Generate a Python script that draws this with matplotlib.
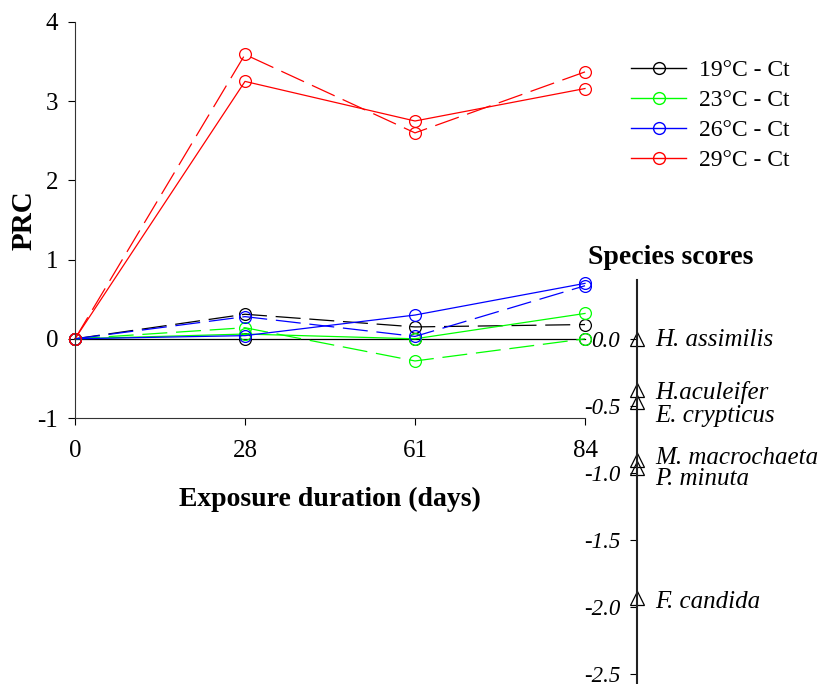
import matplotlib
matplotlib.use('Agg')
import matplotlib.pyplot as plt
from matplotlib.lines import Line2D

# exposure days (plotted as equally spaced categories)
days = ['0', '28', '61', '84']

# PRC values, solid and dashed series per temperature
t19_solid = [0.0, 0.0, 0.0, 0.0]
t19_dash = [0.0, 0.31, 0.15, 0.18]
t23_solid = [0.0, 0.06, 0.0, 0.32]
t23_dash = [0.0, 0.14, -0.28, 0.0]
t26_solid = [0.0, 0.04, 0.30, 0.70]
t26_dash = [0.0, 0.28, 0.03, 0.67]
t29_solid = [0.0, 3.25, 2.75, 3.16]
t29_dash = [0.0, 3.59, 2.60, 3.37]

labels = ['19°C - Ct', '23°C - Ct', '26°C - Ct', '29°C - Ct']
colors = ['black', '#00ff00', '#0000ff', '#ff0000']

# species scores
species = ['H. assimilis', 'H.aculeifer', 'E. crypticus', 'M. macrochaeta', 'P. minuta', 'F. candida']
scores = [0.0, -0.38, -0.47, -0.90, -0.96, -1.93]

plt.rcParams['font.family'] = ['Liberation Serif', 'DejaVu Serif']
plt.rcParams['axes.unicode_minus'] = False

fig = plt.figure(figsize=(8.24, 6.84), dpi=100)
ax = fig.add_axes([75/824, 1-418/684, 510/824, 396/684])

x = range(len(days))
solids = [t19_solid, t23_solid, t26_solid, t29_solid]
dashes = [t19_dash, t23_dash, t26_dash, t29_dash]
for s, d, c in zip(solids, dashes, colors):
    ax.plot(x, d, color=c, lw=0.9, ls=(0, (20, 7)), marker='o', ms=8.5,
            mfc='none', mec=c, mew=0.9, clip_on=False)
    ax.plot(x, s, color=c, lw=0.9, marker='o', ms=8.5,
            mfc='none', mec=c, mew=0.9, clip_on=False)

ax.set_xlim(0, 3)
ax.set_ylim(-1, 4)
ax.set_xticks(list(x))
ax.set_xticklabels(days)
ax.set_yticks([-1, 0, 1, 2, 3, 4])
ax.spines['top'].set_visible(False)
ax.spines['right'].set_visible(False)
for sp in ['left', 'bottom']:
    ax.spines[sp].set_color('#333333')
ax.tick_params(direction='out', length=5, labelsize=18)
ax.tick_params(axis='x', pad=11)
ax.tick_params(axis='y', pad=7)
ax.set_xlabel('Exposure duration (days)', fontsize=20, fontweight='bold', labelpad=18)
ax.set_ylabel('PRC', fontsize=21, fontweight='bold', labelpad=0)

# legend (solid symbols only)
handles = [Line2D([], [], color=c, lw=1, marker='o', ms=8.5, mfc='none', mec=c)
           for c in colors]
fig.legend(handles, labels, loc='upper left', bbox_to_anchor=(622/824, 1-50/684),
           frameon=False, fontsize=17, handlelength=2.3, handletextpad=0.55,
           labelspacing=0.36, borderaxespad=0)

# species score axis
ax2 = fig.add_axes([637/824, 0, 0.2, 1-280/684])
top = (339-280)/134
bottom = -(684-339)/134
ax2.set_ylim(bottom, top)
ax2.set_xlim(0, 1)
for sp in ['top', 'right', 'bottom']:
    ax2.spines[sp].set_visible(False)
ax2.spines['left'].set_linewidth(1.5)
ax2.spines['left'].set_color('#222222')
ax2.patch.set_visible(False)
ax2.set_xticks([])
ticks = [0.0, -0.5, -1.0, -1.5, -2.0, -2.5]
ax2.set_yticks(ticks)
ax2.set_yticklabels(['%.1f' % t for t in ticks], fontstyle='italic', fontsize=16.5)
ax2.tick_params(axis='y', direction='out', length=5, pad=7)
ax2.plot([0]*len(scores), scores, ls='none', marker='^', ms=10, mfc='none',
         mec='black', mew=0.9, clip_on=False)
text_offsets = [-1, -2, -10, 1, -8, -3]
for name, sc, off in zip(species, scores, text_offsets):
    ax2.annotate(name, xy=(0, sc), xytext=(13, off), textcoords='offset points',
                 fontsize=18, fontstyle='italic', va='center', ha='left',
                 annotation_clip=False)
fig.text(588/824, 1-257/684, 'Species scores', fontsize=20, fontweight='bold',
         ha='left', va='center')

fig.savefig('out.png', dpi=100)
